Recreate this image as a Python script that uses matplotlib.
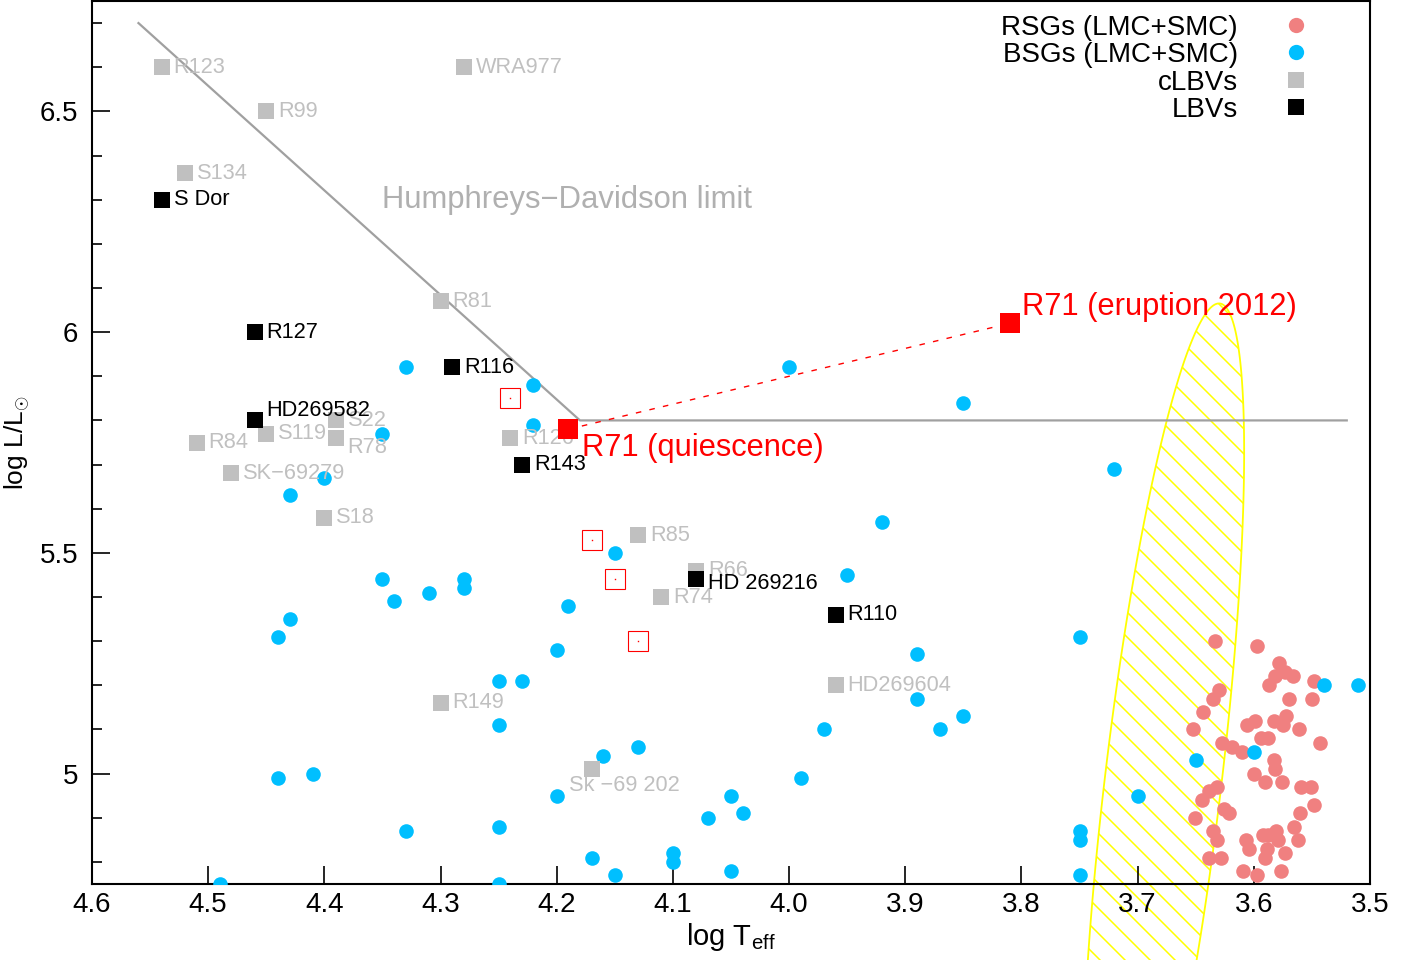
import numpy as np
import matplotlib
matplotlib.use('Agg')
import matplotlib.pyplot as plt
from matplotlib.patches import Polygon
from matplotlib.collections import LineCollection
from matplotlib.transforms import IdentityTransform
from matplotlib.ticker import MultipleLocator, FuncFormatter
from matplotlib.lines import Line2D

plt.rcParams['font.family'] = ['Liberation Sans', 'DejaVu Sans']
plt.rcParams['mathtext.fontset'] = 'custom'
plt.rcParams['mathtext.rm'] = 'Liberation Sans'
plt.rcParams['mathtext.it'] = 'Liberation Sans:italic'

# ---------------- data ----------------
rsg_logT = [3.633, 3.597, 3.578, 3.582, 3.573, 3.566, 3.587, 3.548, 3.630, 3.635,
            3.570, 3.550, 3.644, 3.572, 3.599, 3.606, 3.583, 3.575, 3.561, 3.652,
            3.594, 3.588, 3.543, 3.627, 3.619, 3.610, 3.583, 3.582, 3.600, 3.590,
            3.576, 3.559, 3.551, 3.632, 3.639, 3.645, 3.626, 3.621, 3.651, 3.548,
            3.560, 3.635, 3.632, 3.565, 3.562, 3.607, 3.604, 3.592, 3.588, 3.581,
            3.579, 3.589, 3.590, 3.573, 3.639, 3.628, 3.609, 3.597, 3.577]
rsg_logL = [5.30, 5.29, 5.25, 5.22, 5.23, 5.22, 5.20, 5.21, 5.19, 5.17,
            5.17, 5.17, 5.14, 5.13, 5.12, 5.11, 5.12, 5.11, 5.10, 5.10,
            5.08, 5.08, 5.07, 5.07, 5.06, 5.05, 5.03, 5.01, 5.00, 4.98,
            4.98, 4.97, 4.97, 4.97, 4.96, 4.94, 4.92, 4.91, 4.90, 4.93,
            4.91, 4.87, 4.85, 4.88, 4.85, 4.85, 4.83, 4.86, 4.86, 4.87,
            4.85, 4.83, 4.81, 4.82, 4.81, 4.81, 4.78, 4.77, 4.78]

bsg_logT = [4.33, 4.22, 4.22, 4.35, 4.40, 4.43, 4.00, 3.85, 3.72, 3.92,
            4.15, 3.95, 4.35, 4.28, 4.28, 4.31, 4.34, 4.43, 4.19, 4.44,
            4.20, 4.25, 4.23, 4.25, 3.75, 3.89, 3.89, 3.85, 3.87, 3.97,
            3.54, 3.51, 3.60, 3.65, 3.70, 4.13, 4.16, 3.99, 4.44, 4.41,
            4.20, 4.05, 4.04, 4.07, 4.33, 4.25, 4.10, 4.10, 4.17, 4.05,
            4.15, 4.49, 4.25, 3.75, 3.75, 3.75]
bsg_logL = [5.92, 5.88, 5.79, 5.77, 5.67, 5.63, 5.92, 5.84, 5.69, 5.57,
            5.50, 5.45, 5.44, 5.44, 5.42, 5.41, 5.39, 5.35, 5.38, 5.31,
            5.28, 5.21, 5.21, 5.11, 5.31, 5.27, 5.17, 5.13, 5.10, 5.10,
            5.20, 5.20, 5.05, 5.03, 4.95, 5.06, 5.04, 4.99, 4.99, 5.00,
            4.95, 4.95, 4.91, 4.90, 4.87, 4.88, 4.82, 4.80, 4.81, 4.78,
            4.77, 4.75, 4.75, 4.87, 4.85, 4.77]

clbv_names = ['R123', 'WRA977', 'R99', 'S134', 'R81', 'S22', 'S119', 'R78', 'R84',
              'SK\u221269279', 'S18', 'R126', 'R85', 'R66', 'R74', 'R149',
              'HD269604', 'Sk \u221269 202']
clbv_logT = [4.54, 4.28, 4.45, 4.52, 4.30, 4.39, 4.45, 4.39, 4.51,
             4.48, 4.40, 4.24, 4.13, 4.08, 4.11, 4.30, 3.96, 4.17]
clbv_logL = [6.60, 6.60, 6.50, 6.36, 6.07, 5.80, 5.77, 5.76, 5.75,
             5.68, 5.58, 5.76, 5.54, 5.46, 5.40, 5.16, 5.20, 5.01]

lbv_names = ['S Dor', 'R127', 'R116', 'HD269582', 'R143', 'HD 269216', 'R110']
lbv_logT = [4.54, 4.46, 4.29, 4.46, 4.23, 4.08, 3.96]
lbv_logL = [6.30, 6.00, 5.92, 5.80, 5.70, 5.44, 5.36]

# R71: quiescence and 2012 eruption
r71_logT = [4.19, 3.81]
r71_logL = [5.78, 6.02]
r71_labels = ['R71 (quiescence)', 'R71 (eruption 2012)']

# open red squares
open_logT = [4.24, 4.17, 4.15, 4.13]
open_logL = [5.85, 5.53, 5.44, 5.30]

# Humphreys-Davidson limit
hd_logT = [4.56, 4.18, 3.52]
hd_logL = [6.70, 5.80, 5.80]

# hatched yellow region (ellipse: centre, conjugate semi-diameters)
ell_center = (3.678, 4.984)
ell_u = (-0.048, 1.081)
ell_v = (0.0505, 0.0)

# ---------------- figure ----------------
W, H = 1421, 960
fig = plt.figure(figsize=(W / 100, H / 100), dpi=100)
ax = fig.add_axes([92 / W, 76 / H, 1278 / W, 883 / H])

BLUE = '#00bfff'
PINK = '#f08080'
SILVER = '#c0c0c0'

# hatched ellipse
t = np.linspace(0, 2 * np.pi, 500)
ex = ell_center[0] + ell_u[0] * np.cos(t) + ell_v[0] * np.sin(t)
ey = ell_center[1] + ell_u[1] * np.cos(t) + ell_v[1] * np.sin(t)
poly = Polygon(np.column_stack([ex, ey]), closed=True, fill=False,
               edgecolor='#ffff00', lw=1.3, clip_on=False,
               transform=ax.transData, zorder=1)
ax.add_patch(poly)
cs = np.arange(-2000, 3000, 25.0)
segs = [[(0, c), (2000, c - 2000)] for c in cs]
lc = LineCollection(segs, colors='#ffff00', linewidths=1.1,
                    transform=IdentityTransform(), zorder=1)
lc.set_clip_path(poly)
ax.add_collection(lc, autolim=False)

# HD limit
ax.plot(hd_logT, hd_logL, color='#a0a0a0', lw=1.6, zorder=2)
ax.text(4.35, 6.30, 'Humphreys\u2212Davidson limit', color='#b0b0b0',
        fontsize=22.3, va='center', ha='left')

# R71 dashed path
ax.plot(r71_logT, r71_logL, color='red', lw=1.0, dashes=(4, 6), zorder=2)

# points
ax.plot(rsg_logT, rsg_logL, 'o', color=PINK, ms=10.5, mew=0, zorder=3)
ax.plot(bsg_logT, bsg_logL, 'o', color=BLUE, ms=10.5, mew=0, zorder=3)
ax.plot(clbv_logT, clbv_logL, 's', color=SILVER, ms=11, mew=0, zorder=4)
ax.plot(lbv_logT, lbv_logL, 's', color='black', ms=11, mew=0, zorder=4)
ax.plot(open_logT, open_logL, 's', mfc='none', mec='red', ms=14.5, mew=0.8, zorder=4)
ax.plot(open_logT, open_logL, 's', color='red', ms=1.0, mew=0, zorder=4)
ax.plot(r71_logT, r71_logL, 's', color='red', ms=14.5, mew=0, zorder=5)

# labels
special = {
    'HD269582': (8.6, 7.2, 'left'),
    'R78': (8.0, -6.5, 'left'),
    'HD 269216': (8.6, -3.0, 'left'),
    'Sk \u221269 202': (-16.5, -11.5, 'left'),
}
for n, x, y in zip(clbv_names, clbv_logT, clbv_logL):
    dx, dy, ha = special.get(n, (8.6, 0, 'left'))
    ax.annotate(n, (x, y), xytext=(dx, dy), textcoords='offset points',
                color=SILVER, fontsize=15.7, va='center', ha=ha, zorder=4)
for n, x, y in zip(lbv_names, lbv_logT, lbv_logL):
    dx, dy, ha = special.get(n, (8.6, 0, 'left'))
    ax.annotate(n, (x, y), xytext=(dx, dy), textcoords='offset points',
                color='black', fontsize=15.7, va='center', ha=ha, zorder=4)
r71_offsets = [(9.5, -13.5), (9.0, 12)]
for n, x, y, off in zip(r71_labels, r71_logT, r71_logL, r71_offsets):
    ax.annotate(n, (x, y), xytext=off, textcoords='offset points',
                color='red', fontsize=22.2, va='center', ha='left', zorder=5)

# axes
ax.set_xlim(4.6, 3.5)
ax.set_ylim(4.75, 6.75)
ax.xaxis.set_major_locator(MultipleLocator(0.1))
ax.xaxis.set_major_formatter(FuncFormatter(lambda v, p: f'{v:.1f}'))
ax.yaxis.set_major_locator(MultipleLocator(0.5))
ax.yaxis.set_minor_locator(MultipleLocator(0.1))
ax.yaxis.set_major_formatter(FuncFormatter(lambda v, p: f'{v:g}'))
ax.tick_params(which='both', direction='in', top=False, right=False, width=1.2)
ax.tick_params(which='major', length=13, labelsize=20)
ax.tick_params(axis='x', which='major', pad=6)
ax.tick_params(axis='y', which='major', pad=10)
ax.tick_params(which='minor', length=7)
for s in ax.spines.values():
    s.set_linewidth(1.5)
ax.set_xlabel('log T$_{\\rm eff}$', fontsize=21, labelpad=2)
ax.set_ylabel('log L/L$_{\\odot}$', fontsize=19, labelpad=5.5)

handles = [Line2D([], [], ls='none', marker='o', color=PINK, ms=11, mew=0),
           Line2D([], [], ls='none', marker='o', color=BLUE, ms=11, mew=0),
           Line2D([], [], ls='none', marker='s', color=SILVER, ms=11, mew=0),
           Line2D([], [], ls='none', marker='s', color='black', ms=11, mew=0)]
labels = ['RSGs (LMC+SMC)', 'BSGs (LMC+SMC)', 'cLBVs', 'LBVs']
ax.legend(handles, labels, loc='upper right', bbox_to_anchor=(0.9617, 0.997),
          borderaxespad=0, frameon=False, markerfirst=False, fontsize=20,
          handlelength=1.0, handletextpad=1.59, labelspacing=0.05)

fig.savefig('out.png', dpi=100)
